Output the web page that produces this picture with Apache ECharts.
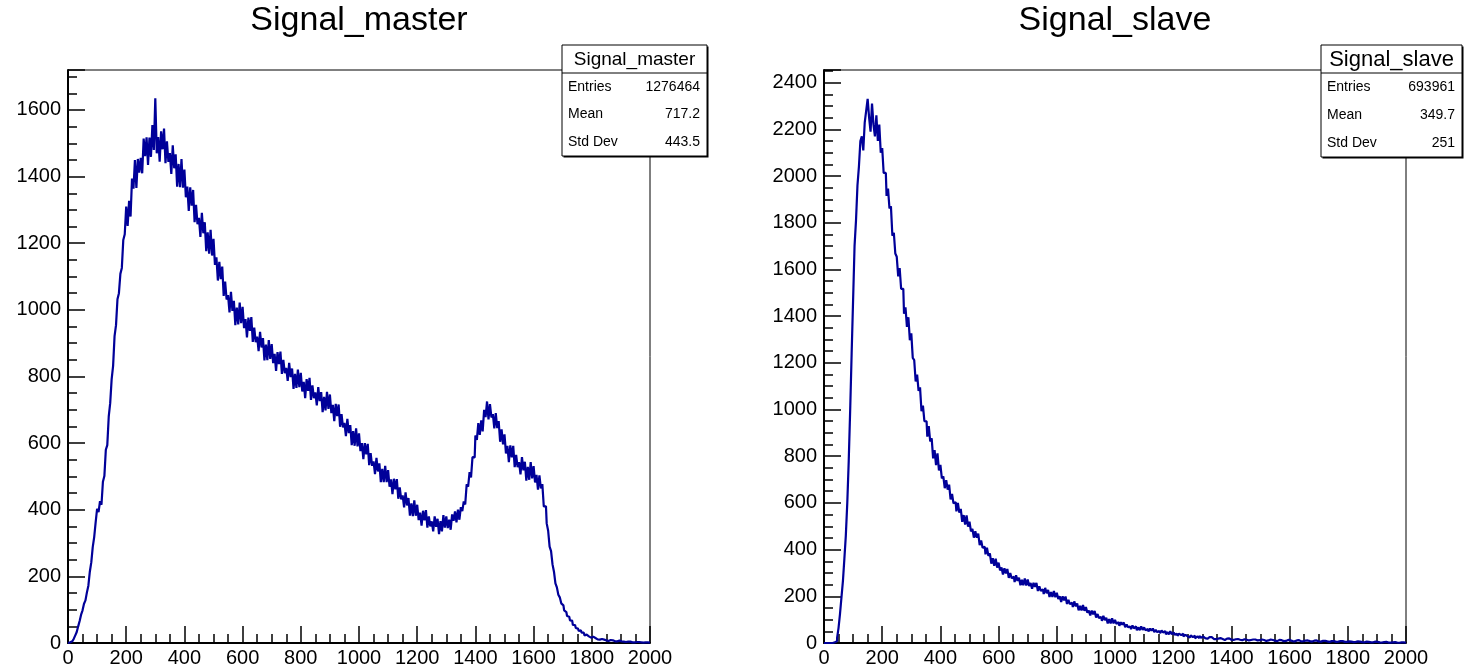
<!DOCTYPE html>
<html><head><meta charset="utf-8">
<script src="https://cdn.jsdelivr.net/npm/echarts@6/dist/echarts.min.js"></script>
<style>html,body{margin:0;padding:0;background:#fff}#c{width:1467px;height:671px}</style>
</head><body><div id="c"></div>
<script>
// ---- data (5-unit bins from 0 to 2000) ----
const binWidth = 5;
const xMin = 0, xMax = 2000;
const masterCounts = [
  0, 2, 5, 9, 13, 23, 33, 50, 66, 85, 98, 118, 128, 152, 172, 214, 242, 288, 318, 362,
  403, 393, 426, 415, 484, 501, 580, 594, 680, 720, 792, 832, 921, 954, 1032, 1050, 1108, 1126, 1210, 1227,
  1310, 1252, 1327, 1280, 1394, 1364, 1450, 1366, 1453, 1412, 1456, 1410, 1514, 1461, 1518, 1435, 1517, 1459, 1555, 1480,
  1635, 1470, 1519, 1445, 1536, 1482, 1544, 1440, 1506, 1444, 1471, 1408, 1494, 1425, 1467, 1370, 1438, 1368, 1453, 1367,
  1421, 1338, 1370, 1297, 1368, 1313, 1360, 1263, 1315, 1257, 1276, 1219, 1291, 1230, 1263, 1176, 1233, 1169, 1240, 1163,
  1213, 1135, 1158, 1088, 1144, 1092, 1130, 1042, 1085, 1031, 1044, 992, 1054, 997, 1027, 954, 1007, 956, 1022, 960,
  1009, 945, 972, 917, 977, 937, 978, 904, 947, 903, 920, 876, 934, 887, 915, 848, 896, 849, 909, 853,
  897, 840, 868, 817, 873, 837, 875, 808, 850, 810, 826, 787, 841, 798, 824, 763, 808, 766, 821, 768,
  811, 755, 784, 735, 792, 757, 796, 730, 773, 735, 752, 713, 768, 726, 753, 693, 739, 698, 754, 703,
  746, 690, 715, 666, 718, 681, 716, 649, 687, 647, 661, 621, 673, 630, 654, 594, 636, 592, 644, 590,
  629, 576, 600, 552, 600, 566, 598, 534, 570, 532, 545, 507, 556, 515, 539, 483, 523, 483, 532, 483,
  519, 469, 491, 447, 493, 461, 492, 433, 467, 431, 443, 407, 452, 413, 435, 382, 419, 381, 428, 382,
  415, 369, 391, 352, 397, 368, 399, 346, 380, 350, 365, 335, 380, 349, 373, 327, 366, 335, 384, 346,
  380, 345, 370, 340, 386, 367, 395, 362, 400, 370, 408, 396, 425, 416, 476, 469, 513, 497, 558, 557,
  623, 610, 660, 625, 668, 635, 700, 678, 725, 671, 717, 677, 687, 644, 690, 645, 666, 604, 641, 596,
  626, 569, 592, 543, 593, 557, 592, 528, 565, 528, 543, 506, 558, 518, 544, 487, 529, 490, 543, 494,
  531, 482, 505, 460, 503, 464, 477, 410, 410, 359, 337, 289, 276, 236, 214, 179, 167, 145, 137, 119,
  113, 98, 93, 81, 79, 68, 67, 54, 54, 45, 43, 36, 38, 31, 31, 23, 25, 20, 23, 16,
  19, 13, 15, 11, 14, 10, 12, 8, 10, 8, 9, 6, 9, 6, 8, 5, 7, 5, 7, 4,
  5, 4, 5, 3, 4, 3, 4, 2, 3, 2, 3, 2, 3, 2, 2, 1, 2, 1, 2, 1
];
const slaveCounts = [
  0, 0, 0, 0, 0, 0, 1, 3, 8, 22, 65, 125, 195, 265, 360, 460, 600, 780, 1000, 1240,
  1470, 1700, 1810, 1960, 2040, 2150, 2170, 2110, 2230, 2280, 2330, 2250, 2190, 2310, 2220, 2170, 2260, 2150, 2220, 2100,
  2120, 2013, 2013, 1915, 1946, 1861, 1870, 1744, 1757, 1668, 1654, 1570, 1606, 1517, 1517, 1410, 1438, 1354, 1395, 1297,
  1326, 1221, 1212, 1120, 1150, 1080, 1095, 993, 1017, 950, 949, 884, 929, 863, 877, 791, 826, 762, 812, 739,
  763, 705, 714, 663, 697, 657, 678, 615, 638, 598, 603, 564, 600, 559, 574, 519, 548, 507, 546, 498,
  520, 478, 489, 451, 479, 451, 468, 419, 439, 408, 412, 380, 408, 373, 384, 340, 363, 331, 361, 323,
  344, 311, 323, 293, 320, 298, 317, 279, 300, 277, 284, 261, 290, 266, 280, 247, 271, 247, 276, 246,
  272, 244, 257, 232, 258, 240, 257, 223, 243, 223, 230, 210, 236, 213, 227, 197, 218, 197, 223, 196,
  215, 188, 200, 176, 200, 183, 199, 167, 185, 166, 173, 154, 178, 157, 169, 140, 159, 139, 163, 138,
  154, 130, 139, 118, 139, 123, 137, 109, 124, 107, 112, 95, 116, 98, 108, 84, 102, 84, 106, 84,
  99, 82, 89, 74, 89, 78, 88, 68, 79, 67, 71, 59, 75, 63, 71, 54, 67, 55, 71, 56,
  67, 54, 60, 49, 62, 53, 62, 47, 56, 47, 51, 42, 54, 45, 51, 37, 47, 37, 50, 38,
  45, 35, 40, 31, 40, 34, 40, 28, 35, 28, 31, 24, 33, 25, 31, 20, 28, 21, 31, 22,
  28, 21, 24, 18, 25, 20, 25, 17, 22, 17, 19, 14, 21, 17, 19, 13, 19, 13, 20, 14,
  18, 13, 16, 12, 17, 14, 18, 12, 16, 13, 14, 11, 16, 13, 15, 10, 15, 11, 16, 12,
  15, 10, 13, 9, 14, 11, 15, 9, 13, 10, 12, 8, 13, 10, 12, 8, 12, 9, 13, 9,
  12, 8, 11, 7, 11, 9, 12, 7, 10, 8, 10, 6, 11, 8, 10, 6, 10, 7, 11, 7,
  10, 6, 9, 6, 9, 7, 10, 5, 8, 6, 8, 5, 9, 6, 8, 4, 8, 5, 8, 5,
  7, 4, 6, 4, 6, 5, 7, 3, 6, 4, 5, 3, 6, 4, 5, 3, 5, 3, 6, 3,
  5, 3, 4, 2, 4, 3, 5, 2, 4, 2, 3, 2, 4, 2, 3, 1, 3, 2, 3, 1
];
const titles = ['Signal_master', 'Signal_slave'];
const statLabels = ['Entries', 'Mean', 'Std Dev'];
const masterStatValues = ['1276464', '717.2', '443.5'];
const slaveStatValues = ['693961', '349.7', '251'];
const yMaxes = [1720, 2454];
const yInterval = 200;
const yMinorInterval = 50;
const xInterval = 200;

// ---- chart ----
const FONT = '"Liberation Sans", Arial, Helvetica, sans-serif';
const LINE = '#000099';

function histData(counts) {
  const d = [[xMin, counts[0]]];
  counts.forEach((v, i) => d.push([xMin + (i + 0.5) * binWidth, v]));
  d.push([xMax, counts[counts.length - 1]]);
  return d;
}

const grids = [
  {left: 68, top: 70, width: 582, height: 573},
  {left: 824, top: 70, width: 582, height: 573}
];

function xAxisCfg(gi) {
  return {
    type: 'value', gridIndex: gi, min: xMin, max: xMax, interval: xInterval,
    axisLine: {show: true, onZero: false, lineStyle: {color: '#000', width: 2}},
    axisTick: {show: true, inside: true, length: 17, lineStyle: {color: '#000', width: 1.5}},
    minorTick: {show: true, splitNumber: 4, length: 9, lineStyle: {color: '#000', width: 1.5}},
    axisLabel: {color: '#000', fontSize: 20, fontFamily: FONT, margin: 5, formatter: v => String(v)},
    splitLine: {show: false}
  };
}
function yAxisCfg(gi) {
  return {
    type: 'value', gridIndex: gi, min: 0, max: yMaxes[gi], interval: yInterval,
    axisLine: {show: true, onZero: false, lineStyle: {color: '#000', width: 2}},
    axisTick: {show: true, inside: true, length: 17, lineStyle: {color: '#000', width: 1.5}},
    minorTick: {show: false},
    axisLabel: {color: '#000', fontSize: 20, fontFamily: FONT, margin: 7,
      formatter: v => (v % yInterval === 0 ? String(v) : '')},
    splitLine: {show: false}
  };
}
function yMinorAxisCfg(gi) {
  return {
    type: 'value', gridIndex: gi, min: 0, max: yMaxes[gi], interval: yMinorInterval,
    position: 'left',
    axisLine: {show: false},
    axisTick: {show: true, inside: true, length: 9, lineStyle: {color: '#000', width: 1.5}},
    axisLabel: {show: false},
    splitLine: {show: false}
  };
}

function statsBox(x, y, w, h, titleH, title, titleSize, values) {
  const children = [
    {type: 'rect', shape: {x: x + 1.5, y: y + 1.5, width: w, height: h}, style: {fill: '#000'}},
    {type: 'rect', shape: {x: x, y: y, width: w, height: h}, style: {fill: '#fff', stroke: '#000', lineWidth: 1}},
    {type: 'line', shape: {x1: x, y1: y + titleH, x2: x + w, y2: y + titleH}, style: {stroke: '#000', lineWidth: 1}},
    {type: 'text', x: x + w / 2, y: y + titleH / 2 + 1,
      style: {text: title, fill: '#000', font: titleSize + 'px ' + FONT, textAlign: 'center', textVerticalAlign: 'middle'}}
  ];
  const rowH = (h - titleH) / statLabels.length;
  statLabels.forEach((lab, i) => {
    const cy = y + titleH + rowH * (i + 0.5);
    children.push({type: 'text', x: x + 6, y: cy,
      style: {text: lab, fill: '#000', font: '14px ' + FONT, textAlign: 'left', textVerticalAlign: 'middle'}});
    children.push({type: 'text', x: x + w - 7, y: cy,
      style: {text: values[i], fill: '#000', font: '14px ' + FONT, textAlign: 'right', textVerticalAlign: 'middle'}});
  });
  return {type: 'group', z: 100, children};
}

const chart = echarts.init(document.getElementById('c'), null, {renderer: 'canvas'});
chart.setOption({
  animation: false,
  backgroundColor: '#fff',
  grid: grids.map(g => Object.assign({show: true, borderColor: '#000', borderWidth: 1, backgroundColor: 'transparent'}, g)),
  xAxis: [xAxisCfg(0), xAxisCfg(1)],
  yAxis: [yAxisCfg(0), yAxisCfg(1), yMinorAxisCfg(0), yMinorAxisCfg(1)],
  series: [
    {type: 'line', xAxisIndex: 0, yAxisIndex: 0, step: 'middle', showSymbol: false, symbol: 'none',
      data: histData(masterCounts), lineStyle: {color: LINE, width: 2.2}, itemStyle: {color: LINE}},
    {type: 'line', xAxisIndex: 1, yAxisIndex: 1, step: 'middle', showSymbol: false, symbol: 'none',
      data: histData(slaveCounts), lineStyle: {color: LINE, width: 2.2}, itemStyle: {color: LINE}}
  ],
  graphic: [
    {type: 'text', x: 359, y: 21, style: {text: titles[0], fill: '#000', font: '34px ' + FONT, textAlign: 'center', textVerticalAlign: 'middle'}},
    {type: 'text', x: 1115, y: 21, style: {text: titles[1], fill: '#000', font: '34px ' + FONT, textAlign: 'center', textVerticalAlign: 'middle'}},
    statsBox(562, 45, 145, 111, 28, titles[0], 19, masterStatValues),
    statsBox(1321, 45, 141, 112, 28, titles[1], 22, slaveStatValues)
  ]
});
</script>
</body></html>
